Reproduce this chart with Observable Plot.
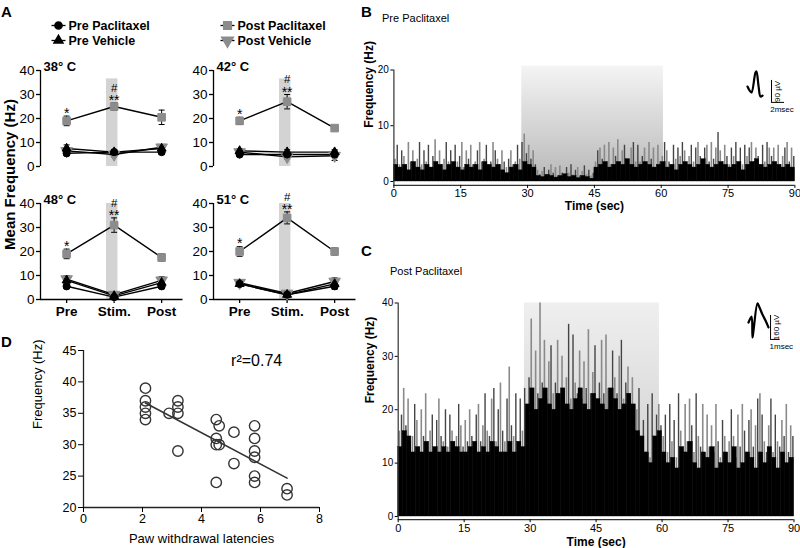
<!DOCTYPE html>
<html><head><meta charset="utf-8">
<script src="https://cdn.jsdelivr.net/npm/d3@7"></script>
<script src="https://cdn.jsdelivr.net/npm/@observablehq/plot@0.6"></script>
<style>
body{margin:0;background:#fff;}
#fig{position:relative;width:800px;height:548px;overflow:hidden;background:#fff;font-family:"Liberation Sans",Arial,Helvetica,sans-serif;color:#000;}
.lbl{position:absolute;font-weight:bold;font-size:15px;line-height:1;}
.ttl{position:absolute;font-size:11px;line-height:1;}
</style></head><body><div id="fig"></div>
<script>
// ---------- Panel A data ----------
const conditions = ["Pre", "Stim.", "Post"];
const temps = ["38° C", "42° C", "48° C", "51° C"];
const prePaclitaxel = [[5.5,6,6],[5,5,5],[5.5,1,5.5],[6.5,2,5.5]];
const prePaclitaxelErr = [[1,0.8,1],[0.8,0.8,0.8],[1,0.6,1],[1,0.8,1.2]];
const preVehicle = [[7.5,6,7.5],[6.5,6,6],[8,1.5,7],[6.5,2,6.5]];
const preVehicleErr = [[1.5,1,1.2],[1,1,1],[1.5,0.8,1.5],[1,0.8,1.5]];
const postPaclitaxel = [[19,25,20.5],[19,27,16],[19,31,17.5],[20,34,20]];
const postPaclitaxelErr = [[2,1.5,3],[1.5,3,1],[2,3,1.5],[2,2.5,1.5]];
const postVehicle = [[6.5,5,8],[6,4,4.5],[8.5,2,8],[7,2.5,7.5]];
const postVehicleErr = [[1,1,1.2],[1,1,2],[1.5,1,1.5],[1,1,1.5]];
const stimBandTop = [36.5, 36.5, 40, 40];
const sigPre = ["*","*","*","*"];
const sigStim = ["**","**","**","**"];
const sigHash = ["#","#","#","#"];
const legendNames = ["Pre Paclitaxel","Pre Vehicle","Post Paclitaxel","Post Vehicle"];
const yTicksA = [0,10,20,30,40];

// ---------- Panels B / C data ----------
const timeTicks = [0,15,30,45,60,75,90];
const freqTicksB = [0,10,20];
const freqTicksC = [0,10,20,30,40];
const stimWindowB = [28.7, 60.5];
const stimWindowC = [28.7, 59.4];
// black body per 1 s bin (Hz)
const bodyB = [3,2.5,3,2,3.5,2.5,2,3,2.5,3.5, 3,2,3,3.5,2.5,2,3,2.5,3,2, 3.5,3,2.5,3,2,1.5,2.5,3,2,3.5,
  3,2.5,1,0.8,1.2,1,0.7,1,1.3,0.8,1,0.6,1,0.8,0.5,
  2.5,3,3.5,2.5,3,3.5,3,4,3,2.5, 3,3.5,3,2.5,3,3.5,2.5,3,2,3, 3.5,3,2.5,3,4,3,2.5,3,3.5,3, 2.5,3,3.5,2,3,3.5,4,3,2.5,3, 3.5,3,2.5,3,2.5];
// spike peaks per 0.5 s bin (Hz)
const spikesB = [4,6.5,3,5.5,4.5,3,7,3.5,5.5,2.5, 4,7,3,5.5,3.5,6.5,2.5,4.5,7.5,3.5, 5.5,3,4,7,3.5,5.5,3,6.5,3.5,4.5,
  7,2.5,5.5,4,6.5,3,3.5,5.5,7,3.5, 4,6.5,2.5,3.5,7,5.5,4,3,5.5,3.5, 2.5,4,5.5,3,3.5,6.5,4,7,8.5,5,
  6.5,4,5.5,3,2,1.2,1.8,2.5,1.2,2, 3,1.5,2.5,1,2.8,1.5,1,2.5,1.5,3, 1.2,2,2.5,1,1.8,2.8,1.2,2,1,1.5,
  3.5,5.5,6,4,6.5,3.5,7,3,6,4.5, 7.5,3.5,5.5,6.5,4,3,6,7,3.5,6.5, 3.5,4.5,6,3,7,4,6,2.5,6.5,3.5,
  4.5,7,5.5,3.5,3,6.5,4,6,4.5,7, 5.5,3,4.5,6.5,3.5,6,7,4.5,3,6, 6.5,3.5,7,4,6,8.8,5.5,3.5,6.5,4.5,
  3,6,4.5,7,3.5,6,3,6.5,4.5,6, 7,3.5,6,4.5,3,6.5,3.5,7,6,4.5, 6,3.5,6.5,3,4.5,6,7,3.5,6,4.5];
const bodyC = [13,16,15,12,13,12,14,12,13,12, 13,12,14,13,12,12,13,14,12,13, 12,14,13,12,12,14,12,14,13,
  21,24,20,22,24,21,20,23,24,21, 20,22,24,21,20,23,22,21,20,24, 22,20,21,23,21,
  16,15,12,10,15,16,
  12,10,11,9,13,12,14,10,9,12, 11,13,9,10,12,10,13,9,10,12, 11,9,12,10,13,11,9,12,10,11];
const spikesC = [16,19,24,17,22,14,15,21,18,13, 20,15,23,14,16,19,13,18,22,15, 14,20,13,19,16,14,15,21,17,13,
  18,14,20,15,13,19,21,14,17,23, 16,15,22,24,14,20,25,16,14,22, 28,17,15,23,14,22,16,24,21,26,
  37,24,31,23,40,25,33,22,29,32, 23,25,33,22,30,24,26,36,22,34, 25,23,31,22,29,24,35,23,27,32,
  22,25,33,23,34,24,22,31,26,23, 30,33,22,25,28,23,26,21,
  20,24,15,18,12,21,11,23,15,19,21,17,
  15,19,12,21,14,18,11,23,16,13, 21,14,22,17,12,23,15,13,21,11, 19,13,17,12,21,14,11,18,15,12,
  14,20,15,11,19,13,21,16,12,18, 20,13,17,22,23,19,14,12,17,22, 12,19,14,13,18,15,21,12,17,15];
// spike waveforms (ms, µV)
const waveB_ms = [0,0.31,0.62,1.23,1.38,1.69,2.0,2.31];
const waveB_uV = [8,-8,-16,66,70,12,-33,-29];
const waveC_ms = [0,0.32,0.42,0.53,0.95,1.16,1.47,1.79,2.1];
const waveC_uV = [0,40,-100,-53,127,100,53,13,-33];
const scaleB = {uV: 90, ms: 2, uVLabel: "90 µV", msLabel: "2msec"};
const scaleC = {uV: 160, ms: 1, uVLabel: "160 µV", msLabel: "1msec"};

// ---------- Panel D data ----------
const pawLatency = [2.1,2.1,2.1,2.1,2.1,2.9,3.2,3.2,3.2,3.2,4.5,4.6,4.5,4.5,4.6,4.5,5.1,5.1,5.8,5.8,5.8,5.8,5.8,5.8,6.9,6.9];
const frequencyD = [39,37,36,35,34,35,37,36,35,29,34,33,31,30,30,24,32,27,33,31,29,28,25,24,23,22];
const xTicksD = [0,2,4,6,8];
const yTicksD = [20,25,30,35,40,45];
const rSquared = "r²=0.74";

// ---------- helpers ----------
const FONT = "'Liberation Sans', Arial, Helvetica, sans-serif";
const STYLE = {background: "transparent", fontFamily: FONT, color: "#000", overflow: "visible"};
const fig = document.getElementById("fig");
function place(el, left, top) {
  el.style.position = "absolute"; el.style.left = left + "px"; el.style.top = top + "px";
  fig.appendChild(el); return el;
}
function html(cls, text, left, top, extra) {
  const d = document.createElement("div"); d.className = cls; d.textContent = text;
  d.style.left = left + "px"; d.style.top = top + "px"; if (extra) Object.assign(d.style, extra);
  fig.appendChild(d);
}
const SQ3 = Math.sqrt(3);
const triDown = {draw(ctx, size) { const y = -Math.sqrt(size / (SQ3 * 3)); ctx.moveTo(0, -y * 2); ctx.lineTo(-SQ3 * y, y); ctx.lineTo(SQ3 * y, y); ctx.closePath(); }};
const capSym = {draw(ctx) { ctx.moveTo(-3, 0); ctx.lineTo(3, 0); }};
const legLine = {draw(ctx) { ctx.moveTo(-7, 0); ctx.lineTo(7, 0); }};

const seriesA = [
  {name: "Post Vehicle", v: postVehicle, e: postVehicleErr, sym: triDown, r: 4.3, color: "#8c8c8c"},
  {name: "Pre Vehicle", v: preVehicle, e: preVehicleErr, sym: "triangle2", r: 4.3, color: "#000"},
  {name: "Pre Paclitaxel", v: prePaclitaxel, e: prePaclitaxelErr, sym: "circle", r: 3.6, color: "#000"},
  {name: "Post Paclitaxel", v: postPaclitaxel, e: postPaclitaxelErr, sym: "square", r: 4.3, color: "#8c8c8c"}
];

// ---------- Panel A ----------
function panelA(k, left, top, bottom) {
  const height = bottom ? 141 : 117;
  const rowsOf = s => conditions.map((c, j) => ({j, y: s.v[k][j], e: s.e[k][j]}));
  const marks = [
    Plot.rect([stimBandTop[k]], {x1: 0.84, x2: 1.08, y1: 0, y2: d => d, fill: "#d3d3d3"}),
    Plot.ruleX([-0.55], {y1: 0, y2: 40, stroke: "#000", strokeWidth: 1.3}),
    Plot.axisY({ticks: yTicksA, tickSize: 4, tickPadding: 2, fontSize: 13.5, label: null, strokeWidth: 1.3})
  ];
  if (bottom) {
    marks.push(Plot.ruleY([0], {stroke: "#000", strokeWidth: 1.3}));
    marks.push(Plot.axisX({ticks: [0,1,2], tickFormat: i => conditions[i], tickSize: 4, tickPadding: 3, fontSize: 13.5, fontWeight: "bold", label: null, strokeWidth: 1.3}));
  }
  for (const s of seriesA) marks.push(Plot.line(rowsOf(s), {x: "j", y: "y", stroke: "#000", strokeWidth: 1.4}));
  for (const s of seriesA) {
    const rows = rowsOf(s);
    marks.push(Plot.ruleX(rows, {x: "j", y1: d => d.y - d.e, y2: d => d.y + d.e, stroke: "#000", strokeWidth: 1}));
    marks.push(Plot.dot(rows, {x: "j", y: d => d.y + d.e, symbol: capSym, fill: "none", stroke: "#000", strokeWidth: 1}));
    marks.push(Plot.dot(rows, {x: "j", y: d => d.y - d.e, symbol: capSym, fill: "none", stroke: "#000", strokeWidth: 1}));
  }
  for (const s of seriesA) marks.push(Plot.dot(rowsOf(s), {x: "j", y: "y", symbol: s.sym, r: s.r, fill: s.color, stroke: s.color, strokeWidth: 1}));
  const pp = postPaclitaxel[k], pe = postPaclitaxelErr[k];
  marks.push(Plot.text([sigPre[k]], {text: d => d, x: 0, y: pp[0] + pe[0], dy: -3, fontSize: 14}));
  marks.push(Plot.text([sigStim[k]], {text: d => d, x: 1, y: pp[1] + pe[1], dy: -2, fontSize: 14}));
  marks.push(Plot.text([sigHash[k]], {text: d => d, x: 1, y: pp[1] + pe[1], dy: -15, fontSize: 11.5}));
  marks.push(Plot.text([temps[k]], {text: d => d, frameAnchor: "top-left", lineAnchor: "middle", dx: 3, dy: -4, fontWeight: "bold", fontSize: 13}));
  place(Plot.plot({
    width: 190, height, marginLeft: 40, marginRight: 7.5, marginTop: 15, marginBottom: height - 111,
    x: {domain: [-0.55, 2.45], axis: null}, y: {domain: [0, 40], axis: null},
    style: STYLE, marks
  }), left, top);
}

// legend
place(Plot.plot({
  width: 400, height: 50, margin: 0,
  x: {domain: [0, 1], range: [58, 227], axis: null},
  y: {domain: [0, 1], range: [25, 40], axis: null},
  style: STYLE,
  marks: [
    Plot.dot(legendNames, {x: (d, i) => i >> 1, y: (d, i) => i & 1, symbol: legLine, fill: "none", stroke: "#000", strokeWidth: 1.3}),
    ...legendNames.map((n, i) => {
      const s = seriesA.find(t => t.name === n);
      return Plot.dot([n], {x: i >> 1, y: i & 1, symbol: s.sym, r: s.r, fill: s.color, stroke: s.color});
    }),
    Plot.text(legendNames, {text: d => d, x: (d, i) => i >> 1, y: (d, i) => i & 1, dx: 10, textAnchor: "start", fontWeight: "bold", fontSize: 12.5})
  ]
}), 0, 0);

panelA(0, 0, 55, false);
panelA(1, 173, 55, false);
panelA(2, 0, 188, true);
panelA(3, 173, 188, true);

// ---------- Panels B / C ----------
function addGradient(svg, id, c1, c2) {
  const defs = d3.select(svg).insert("defs", ":first-child");
  const g = defs.append("linearGradient").attr("id", id).attr("x1", 0).attr("y1", 0).attr("x2", 0).attr("y2", 1);
  g.append("stop").attr("offset", "0%").attr("stop-color", c1);
  g.append("stop").attr("offset", "100%").attr("stop-color", c2);
}
function histogram(o) {
  const svg = Plot.plot({
    width: 460, height: o.height, marginLeft: o.ml, marginRight: o.mr, marginTop: o.mt, marginBottom: o.mb,
    x: {domain: [0, 90], axis: null}, y: {domain: [o.y0, o.yMax], axis: null},
    style: STYLE,
    marks: [
      Plot.rect([o.stim], {x1: d => d[0], x2: d => d[1], y1: 0, y2: o.stimTop, fill: `url(#${o.grad})`}),
      Plot.ruleX(o.spikes, {filter: (d, i) => i % 2 === 0, x: (d, i) => i * 0.5 + 0.25, y1: 0, y2: d => d, stroke: "#8a8a8a", strokeWidth: 1.6}),
      Plot.ruleX(o.spikes, {filter: (d, i) => i % 2 === 1, x: (d, i) => i * 0.5 + 0.25, y1: 0, y2: d => d, stroke: "#444", strokeWidth: 1.4}),
      Plot.rectY(o.body, {x1: (d, i) => i, x2: (d, i) => i + 1, y: d => d, fill: "#000", stroke: "#000", strokeWidth: 0.4, inset: 0}),
      Plot.ruleY([o.y0], {stroke: "#333", strokeWidth: 1.2}),
      Plot.ruleX([0], {y1: o.y0, y2: o.yMax, stroke: "#333", strokeWidth: 1.2}),
      Plot.axisY({ticks: o.yTicks, tickSize: 3, tickPadding: 2, fontSize: 10, label: null}),
      Plot.axisX({ticks: timeTicks, tickSize: 3, tickPadding: 1, fontSize: 11, label: null}),
      Plot.text(["Time (sec)"], {text: d => d, frameAnchor: "bottom", lineAnchor: "middle", dy: o.tdy, fontWeight: "bold", fontSize: 12}),
      Plot.text(["Frequency (Hz)"], {text: d => d, frameAnchor: "left", lineAnchor: "middle", rotate: -90, dx: o.fdx, dy: o.fdy, fontWeight: "bold", fontSize: 12})
    ]
  });
  addGradient(svg, o.grad, o.g1, o.g2);
  place(svg, 340, o.top);
}
histogram({top: 50, height: 165, ml: 53.4, mr: 5.6, mt: 19.5, mb: 30.1, y0: -0.7, yMax: 20,
  stim: stimWindowB, stimTop: 20.7, spikes: spikesB, body: bodyB, yTicks: freqTicksB,
  grad: "gradB", g1: "#f4f4f4", g2: "#b8b8b8", tdy: 21, fdx: -25, fdy: 0});
histogram({top: 290, height: 258, ml: 57.7, mr: 6.5, mt: 12.5, mb: 28.8, y0: -0.6, yMax: 40,
  stim: stimWindowC, stimTop: 40, spikes: spikesC, body: bodyC, yTicks: freqTicksC,
  grad: "gradC", g1: "#efefef", g2: "#c9c9c9", tdy: 22, fdx: -28, fdy: -8});

// spike waveform insets
function inset(o) {
  const wave = o.ms.map((t, i) => ({t, v: o.uV[i]}));
  place(Plot.plot({
    width: o.w, height: o.h, margin: 0,
    x: {domain: o.xd, axis: null}, y: {domain: o.yd, axis: null}, style: STYLE,
    marks: [
      Plot.line(wave, {x: "t", y: "v", stroke: "#000", strokeWidth: 2.2, curve: "catmull-rom"}),
      Plot.ruleX([o.bx], {y1: o.by, y2: o.by + o.sc.uV, stroke: "#000", strokeWidth: 1}),
      Plot.ruleY([o.by], {x1: o.bx, x2: o.bx + o.sc.ms, stroke: "#000", strokeWidth: 1}),
      Plot.text([o.sc.uVLabel], {text: d => d, x: o.bx, y: o.by + o.sc.uV / 2, dx: 6, rotate: -90, fontSize: 8}),
      Plot.text([o.sc.msLabel], {text: d => d, x: o.bx + o.sc.ms / 2, y: o.by, dx: o.mdx, dy: 7, fontSize: 8})
    ]
  }), o.left, o.top);
}
inset({left: 740, top: 64, w: 56, h: 52, xd: [-1.077, 7.538], yd: [-114.8, 98.4], ms: waveB_ms, uV: waveB_uV, sc: scaleB, bx: 3.69, by: -57, mdx: 4});
inset({left: 740, top: 295, w: 56, h: 58, xd: [-0.842, 5.05], yd: [-206.7, 180], ms: waveC_ms, uV: waveC_uV, sc: scaleC, bx: 2.32, by: -113, mdx: 6});

// ---------- Panel D ----------
const rowsD = pawLatency.map((x, i) => ({x, y: frequencyD[i]}));
place(Plot.plot({
  width: 340, height: 213, marginLeft: 83, marginRight: 21, marginTop: 15, marginBottom: 41,
  x: {domain: [0, 8], axis: null}, y: {domain: [20, 45], axis: null}, style: STYLE,
  marks: [
    Plot.ruleX([0], {stroke: "#222", strokeWidth: 1.3}),
    Plot.ruleY([20], {stroke: "#222", strokeWidth: 1.3}),
    Plot.axisX({ticks: xTicksD, tickSize: 5, tickPadding: 2, fontSize: 12.5, label: null}),
    Plot.axisY({ticks: yTicksD, tickSize: 5, tickPadding: 2, fontSize: 12.5, label: null}),
    Plot.linearRegressionY(rowsD, {x: "x", y: "y", ci: 0, stroke: "#333", strokeWidth: 1.6}),
    Plot.dot(rowsD, {x: "x", y: "y", r: 5.2, fill: "none", stroke: "#333", strokeWidth: 1.4}),
    Plot.text([rSquared], {text: d => d, x: 5.87, y: 43.4, fontSize: 16}),
    Plot.text(["Paw withdrawal latencies"], {text: d => d, frameAnchor: "bottom", lineAnchor: "middle", dy: 31, fontSize: 13}),
    Plot.text(["Frequency (Hz)"], {text: d => d, frameAnchor: "left", lineAnchor: "middle", rotate: -90, dx: -46, fontSize: 13})
  ]
}), 0, 335);

// ---------- panel letters, titles ----------
html("lbl", "A", 1, 4);
html("lbl", "B", 361, 4);
html("lbl", "C", 361, 243);
html("lbl", "D", 1, 334);
html("ttl", "Pre Paclitaxel", 382, 13);
html("ttl", "Post Paclitaxel", 390, 266);
html("lbl", "Mean Frequency (Hz)", -71, 167, {width: "160px", textAlign: "center", fontSize: "15px", whiteSpace: "nowrap", transform: "rotate(-90deg)", transformOrigin: "50% 50%"});
</script></body></html>
